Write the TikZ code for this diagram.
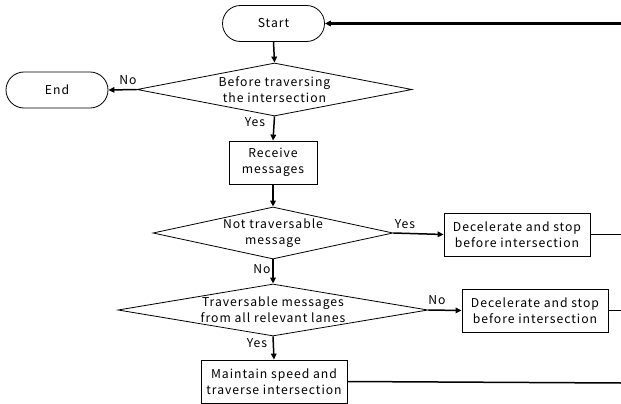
\documentclass[tikz,border=0pt]{standalone}
\usepackage{fontspec}
\setmainfont{Noto Sans CJK JP}[LetterSpace=8]
\usetikzlibrary{shapes.geometric,shapes.misc,arrows.meta}
\begin{document}
\begin{tikzpicture}[x=1pt,y=-1pt,
  every node/.style={font=\fontsize{12.2}{15.7}\selectfont, align=center, inner sep=0pt},
  term/.style={draw, line width=0.8pt, rounded rectangle, minimum width=102pt, minimum height=36pt},
  proc/.style={draw, line width=0.8pt, rectangle, minimum width=146pt, minimum height=43pt},
  decision/.style={draw, line width=0.8pt, diamond},
  flow/.style={line width=1.5pt, -{Triangle[length=6pt,width=5.5pt]}},
  back/.style={line width=1.5pt},
  lbl/.style={font=\fontsize{12.2}{14}\selectfont}
]
\useasboundingbox (0,0) rectangle (621,404);
% nodes
\node[term] (start) at (273.5,23.5) {Start};
\node[term] (end) at (57,90) {End};
\node[decision, minimum width=275pt, minimum height=53pt, aspect=5.19] (d1) at (274.5,89.5) {Before traversing\\the intersection};
\node[proc, minimum width=88pt] (recv) at (273,162.5) {Receive\\messages};
\node[decision, minimum width=240pt, minimum height=52pt, aspect=4.6] (d2) at (273,233) {Not traversable\\message};
\node[proc] (dec1) at (517,234.5) {Decelerate and stop\\before intersection};
\node[decision, minimum width=310pt, minimum height=52pt, aspect=5.96] (d3) at (273,310) {Traversable messages\\from all relevant lanes};
\node[proc] (dec2) at (535,310.5) {Decelerate and stop\\before intersection};
\node[proc] (maint) at (274,381.5) {Maintain speed and\\traverse intersection};
% free ends at the right edge
\coordinate (fb) at (621,23.5);
\coordinate (r1) at (621,234.5);
\coordinate (r2) at (621,310.5);
\coordinate (r3) at (621,383);
% connectors
\draw[flow, line width=2.3pt] (fb) -- (start.east);
\draw[flow] (start.south) -- (d1.north);
\draw[flow] (d1.west) -- (end.east);
\draw[flow] (d1.south) -- (recv.north);
\draw[flow] (recv.south) -- (d2.north);
\draw[flow] (d2.east) -- (dec1.west);
\draw[back] (dec1.east) -- (r1);
\draw[flow] (d2.south) -- (d3.north);
\draw[flow] (d3.east) -- (dec2.west);
\draw[back] (dec2.east) -- (r2);
\draw[flow] (d3.south) -- (maint.north);
\draw[back] (maint.east) -- (r3);
% labels
\node[lbl] (l1) at (128,80) {No};
\node[lbl] (l2) at (255,122) {Yes};
\node[lbl] (l3) at (405,224) {Yes};
\node[lbl] (l4) at (262,269) {No};
\node[lbl] (l5) at (437,300) {No};
\node[lbl] (l6) at (257,343) {Yes};
\end{tikzpicture}
\end{document}
